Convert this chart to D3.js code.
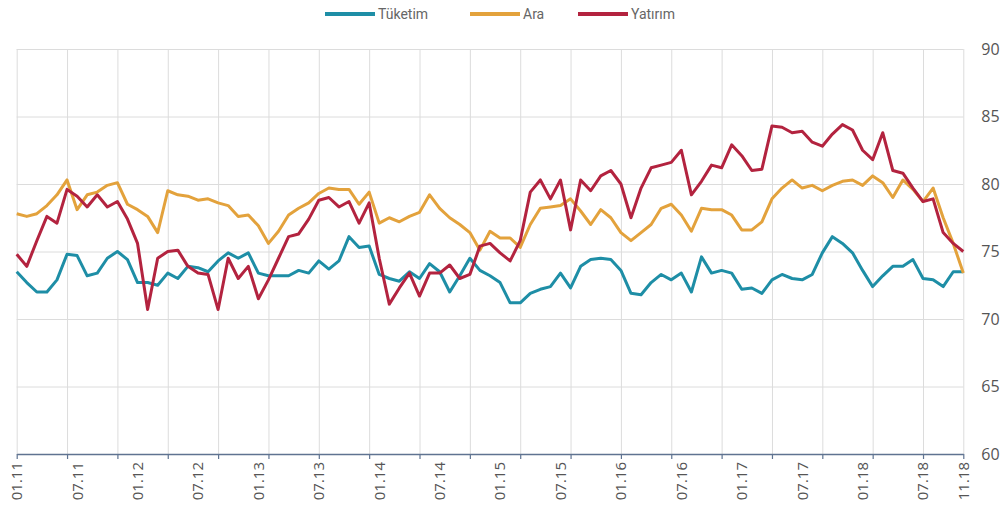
<!DOCTYPE html>
<html>
<head>
<meta charset="utf-8">
<script src="https://cdn.jsdelivr.net/npm/d3@7"></script>
<style>
  body { margin: 0; background: #fff; }
  svg { display: block; }
  .grid line { stroke: #dcdcdc; stroke-width: 1; }
  .grid .domain { display: none; }
  .lbl text { fill: #555; font-family: "Open Sans", "Noto Sans", sans-serif; font-size: 15px; }
  .ylbl text { fill: #555; font-family: "Open Sans", "Noto Sans", sans-serif; font-size: 16px; }
  .leg text { fill: #666; font-family: "Liberation Sans Narrow", "Roboto", sans-serif; font-size: 14px; }
</style>
</head>
<body>
<svg id="chart"></svg>
<script>
// monthly, 01.11 .. 11.18
var months = d3.range(95).map(function(i) {
  var m = (i % 12) + 1;
  return (m < 10 ? "0" + m : "" + m) + "." + (11 + Math.floor(i / 12));
});

var tuketim = [
  73.5, 72.7, 72.0, 72.0, 72.9, 74.8, 74.7, 73.2, 73.4, 74.5, 75.0, 74.4, 72.7, 72.7, 72.5, 73.4, 73.0, 73.9, 73.8,
  73.5, 74.3, 74.9, 74.5, 74.9, 73.4, 73.2, 73.2, 73.2, 73.6, 73.4, 74.3, 73.7, 74.3, 76.1, 75.3, 75.4, 73.3, 73.0,
  72.8, 73.5, 73.0, 74.1, 73.5, 72.0, 73.2, 74.5, 73.6, 73.2, 72.7, 71.2, 71.2, 71.9, 72.2, 72.4, 73.4, 72.3, 73.9,
  74.4, 74.5, 74.4, 73.6, 71.9, 71.8, 72.7, 73.3, 72.9, 73.4, 72.0, 74.6, 73.4, 73.6, 73.4, 72.2, 72.3, 71.9, 72.9,
  73.3, 73.0, 72.9, 73.3, 74.9, 76.1, 75.6, 74.9, 73.6, 72.4, 73.2, 73.9, 73.9, 74.4, 73.0, 72.9, 72.4, 73.5, 73.5
];
var ara = [
  77.8, 77.6, 77.8, 78.4, 79.2, 80.3, 78.1, 79.2, 79.4, 79.9, 80.1, 78.5, 78.1, 77.6, 76.4, 79.5, 79.2, 79.1, 78.8,
  78.9, 78.6, 78.4, 77.6, 77.7, 76.9, 75.6, 76.5, 77.7, 78.2, 78.6, 79.3, 79.7, 79.6, 79.6, 78.5, 79.4, 77.1, 77.5,
  77.2, 77.6, 77.9, 79.2, 78.2, 77.5, 77.0, 76.4, 75.1, 76.5, 76.0, 76.0, 75.3, 77.0, 78.2, 78.3, 78.4, 78.9, 78.0,
  77.0, 78.1, 77.5, 76.4, 75.8, 76.4, 77.0, 78.2, 78.5, 77.7, 76.5, 78.2, 78.1, 78.1, 77.7, 76.6, 76.6, 77.2, 78.9,
  79.7, 80.3, 79.7, 79.9, 79.5, 79.9, 80.2, 80.3, 79.9, 80.6, 80.1, 79.0, 80.3, 79.6, 78.7, 79.7, 77.5, 75.6, 73.4
];
var yatirim = [
  74.8, 73.9, 75.8, 77.6, 77.1, 79.6, 79.1, 78.3, 79.2, 78.3, 78.7, 77.4, 75.6, 70.7, 74.5, 75.0, 75.1, 73.9, 73.4,
  73.3, 70.7, 74.5, 73.0, 73.9, 71.5, 72.9, 74.5, 76.1, 76.3, 77.4, 78.8, 79.0, 78.3, 78.7, 77.1, 78.6, 74.5, 71.1,
  72.3, 73.4, 71.7, 73.4, 73.4, 74.0, 73.0, 73.3, 75.4, 75.6, 74.9, 74.3, 75.8, 79.4, 80.3, 78.9, 80.3, 76.6, 80.3,
  79.5, 80.6, 81.0, 80.0, 77.5, 79.7, 81.2, 81.4, 81.6, 82.5, 79.2, 80.2, 81.4, 81.2, 82.9, 82.1, 81.0, 81.1, 84.3,
  84.2, 83.8, 83.9, 83.1, 82.8, 83.7, 84.4, 84.0, 82.5, 81.8, 83.8, 81.0, 80.8, 79.7, 78.7, 78.9, 76.4, 75.6, 75.0
];

var seriesNames = ["Tüketim", "Ara", "Yatırım"];
var seriesColors = ["#1e8ea6", "#e3a23c", "#b3233f"];
var xLabels = ["01.11", "07.11", "01.12", "07.12", "01.13", "07.13", "01.14", "07.14", "01.15",
               "07.15", "01.16", "07.16", "01.17", "07.17", "01.18", "07.18", "11.18"];
var yTicks = [60, 65, 70, 75, 80, 85, 90];

var W = 1002, H = 518,
    plotL = 16.7, plotR = 963.3, plotT = 49, plotB = 454;

var svg = d3.select("#chart").attr("width", W).attr("height", H);

var x = d3.scaleLinear().domain([0, months.length - 1]).range([plotL, plotR]);
var y = d3.scaleLinear().domain([60, 90]).range([plotB, plotT]);

var gridTicks = d3.range(0, months.length, 5).concat([months.length - 1]);

// vertical grid
svg.append("g")
  .attr("class", "grid")
  .attr("transform", "translate(0," + plotB + ")")
  .call(d3.axisBottom(x).tickValues(gridTicks).tickSize(-(plotB - plotT)).tickFormat(""));

// horizontal grid
svg.append("g")
  .attr("class", "grid")
  .attr("transform", "translate(" + plotL + ",0)")
  .call(d3.axisLeft(y).tickValues(yTicks).tickSize(-(plotR - plotL)).tickFormat(""));

// y labels on the right
var yAx = svg.append("g")
  .attr("class", "ylbl")
  .attr("transform", "translate(" + (plotR + 14) + ",0)")
  .call(d3.axisRight(y).tickValues(yTicks).tickSize(0).tickPadding(4));
yAx.select(".domain").remove();

// lines
var line = d3.line()
  .x(function(d, i) { return x(i); })
  .y(function(d) { return y(d); });

[tuketim, ara, yatirim].forEach(function(s, k) {
  svg.append("path")
    .datum(s)
    .attr("d", line)
    .attr("fill", "none")
    .attr("stroke", seriesColors[k])
    .attr("stroke-width", 3)
    .attr("stroke-linejoin", "round");
});

// x axis line + ticks
var xAx = svg.append("g")
  .attr("transform", "translate(0," + plotB + ")")
  .call(d3.axisBottom(x).tickValues(gridTicks).tickSize(5).tickSizeOuter(0).tickFormat(""));
xAx.select(".domain").attr("stroke", "#5f7391").attr("stroke-width", 1.5);
xAx.selectAll(".tick line").attr("stroke", "#5f7391").attr("stroke-width", 1.2);

// x labels rotated
var labelIdx = xLabels.map(function(l) { return months.indexOf(l); });
svg.append("g")
  .attr("class", "lbl")
  .selectAll("text")
  .data(labelIdx)
  .enter().append("text")
  .attr("transform", function(d) { return "translate(" + x(d) + "," + (plotB + 8) + ") rotate(-90)"; })
  .attr("text-anchor", "end")
  .attr("dy", "0.36em")
  .text(function(d) { return months[d]; });

// legend
var legX = [325, 470, 578];
var leg = svg.append("g").attr("class", "leg");
seriesNames.forEach(function(n, k) {
  leg.append("line")
    .attr("x1", legX[k]).attr("x2", legX[k] + 50)
    .attr("y1", 14).attr("y2", 14)
    .attr("stroke", seriesColors[k])
    .attr("stroke-width", 4);
  leg.append("text")
    .attr("x", legX[k] + 53)
    .attr("y", 14)
    .attr("dy", "0.35em")
    .text(n);
});
</script>
</body>
</html>
